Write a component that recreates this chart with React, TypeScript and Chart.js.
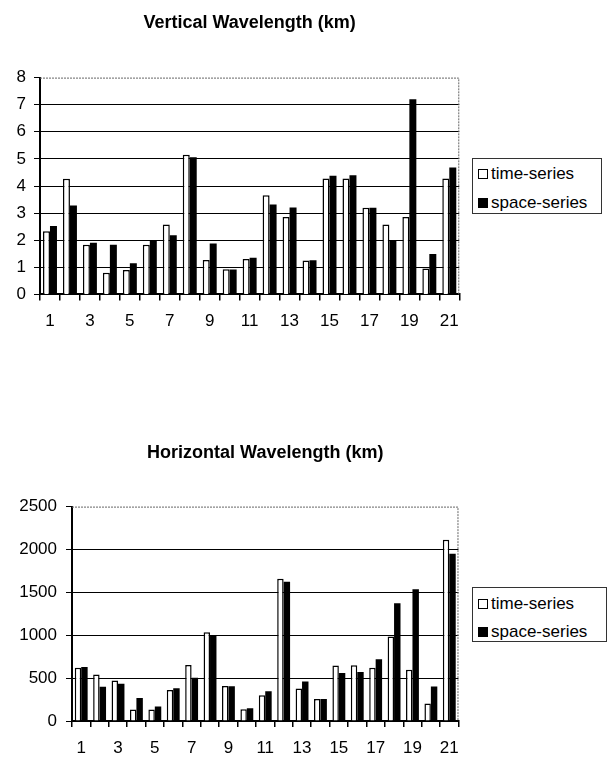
import React, { useEffect, useRef } from 'react';
import { Chart, registerables } from 'chart.js';

Chart.register(...registerables);

const categories = ['1', '2', '3', '4', '5', '6', '7', '8', '9', '10', '11', '12', '13', '14', '15', '16', '17', '18', '19', '20', '21'];
const seriesNames = ['time-series', 'space-series'];

const verticalTime = [2.33, 4.27, 1.83, 0.8, 0.9, 1.83, 2.58, 5.15, 1.27, 0.93, 1.31, 3.66, 2.86, 1.25, 4.28, 4.28, 3.2, 2.58, 2.86, 0.96, 4.28];
const verticalSpace = [2.52, 3.28, 1.91, 1.83, 1.15, 1.98, 2.18, 5.06, 1.88, 0.92, 1.35, 3.32, 3.21, 1.26, 4.38, 4.4, 3.2, 1.99, 7.2, 1.49, 4.68];

const horizontalTime = [622, 543, 472, 134, 134, 362, 654, 1035, 409, 138, 300, 1659, 378, 256, 646, 650, 622, 985, 598, 205, 2112];
const horizontalSpace = [630, 400, 433, 268, 170, 382, 504, 1004, 405, 150, 346, 1624, 460, 256, 559, 571, 720, 1372, 1535, 402, 1950];

const FONT = "'Liberation Sans', Arial, sans-serif";

const framePlugin = {
  id: 'frame',
  beforeDatasetsDraw(chart: any) {
    const { ctx, chartArea: a } = chart;
    ctx.save();
    ctx.strokeStyle = '#666';
    ctx.lineWidth = 1;
    ctx.setLineDash([2, 1]);
    ctx.beginPath();
    ctx.moveTo(a.left, a.top + 0.5);
    ctx.lineTo(a.right - 0.5, a.top + 0.5);
    ctx.lineTo(a.right - 0.5, a.bottom);
    ctx.stroke();
    ctx.restore();
  },
};

interface Cfg {
  title: string;
  time: number[];
  space: number[];
  yMax: number;
  yStep: number;
  yWidth: number;
  yPad: number;
  xHeight: number;
  xPad: number;
  titleTop: number;
  titleBottom: number;
}

function makeChart(canvas: HTMLCanvasElement, c: Cfg) {
  return new Chart(canvas, {
    type: 'bar',
    data: {
      labels: categories,
      datasets: [
        {
          label: seriesNames[0],
          data: c.time,
          backgroundColor: '#ffffff',
          borderColor: '#000000',
          borderWidth: 1.5,
          categoryPercentage: 0.7,
          barPercentage: 1.0,
        },
        {
          label: seriesNames[1],
          data: c.space,
          backgroundColor: '#000000',
          borderColor: '#000000',
          borderWidth: 0,
          categoryPercentage: 0.7,
          barPercentage: 1.0,
        },
      ],
    },
    options: {
      animation: false,
      responsive: false,
      events: [],
      layout: { padding: { left: 0, right: 10, top: 0, bottom: 0 } },
      plugins: {
        legend: { display: false },
        tooltip: { enabled: false },
        title: {
          display: true,
          text: c.title,
          color: '#000',
          fullSize: false,
          font: { family: FONT, size: 18, weight: 'bold' },
          padding: { top: c.titleTop, bottom: c.titleBottom },
        },
      },
      scales: {
        x: {
          afterFit: (s: any) => {
            s.height = c.xHeight;
          },
          grid: {
            offset: true,
            drawOnChartArea: false,
            drawTicks: true,
            tickLength: 6,
            color: '#000',
            lineWidth: 1.5,
          },
          border: { display: true, color: '#000', width: 2 },
          ticks: {
            autoSkip: false,
            maxRotation: 0,
            padding: c.xPad,
            color: '#000',
            font: { family: FONT, size: 17 },
            callback: (_v: any, i: number) => (i % 2 === 0 ? categories[i] : ''),
          },
        },
        y: {
          min: 0,
          max: c.yMax,
          afterFit: (s: any) => {
            s.width = c.yWidth;
          },
          grid: {
            color: (ctx: any) => (ctx.tick && ctx.tick.value === c.yMax ? 'rgba(0,0,0,0)' : '#000'),
            lineWidth: 1,
            tickLength: 6,
            tickColor: '#000',
          },
          border: { display: true, color: '#000', width: 2 },
          ticks: {
            stepSize: c.yStep,
            padding: c.yPad,
            color: '#000',
            font: { family: FONT, size: 17 },
            callback: (v: any) => String(v),
          },
        },
      },
    },
    plugins: [framePlugin],
  } as any);
}

function Legend({ left, top, width, height, row1, row2 }: { left: number; top: number; width: number; height: number; row1: number; row2: number }) {
  const rowStyle = (center: number): React.CSSProperties => ({
    position: 'absolute',
    left: 5,
    top: center - 11,
    height: 22,
    display: 'flex',
    alignItems: 'center',
    whiteSpace: 'nowrap',
    fontFamily: FONT,
    fontSize: 17,
    color: '#000',
  });
  const marker = (fill: string): React.CSSProperties => ({
    display: 'inline-block',
    width: 10,
    height: 10,
    boxSizing: 'border-box',
    border: '1.5px solid #000',
    background: fill,
    marginRight: 3,
  });
  return (
    <div
      style={{
        position: 'absolute',
        left,
        top,
        width,
        height,
        boxSizing: 'border-box',
        border: '1px solid #333',
        background: '#fff',
      }}
    >
      <div style={rowStyle(row1)}>
        <span style={marker('#fff')} />
        <span>{seriesNames[0]}</span>
      </div>
      <div style={rowStyle(row2)}>
        <span style={marker('#000')} />
        <span>{seriesNames[1]}</span>
      </div>
    </div>
  );
}

export default function App() {
  const ref1 = useRef<HTMLCanvasElement>(null);
  const ref2 = useRef<HTMLCanvasElement>(null);

  useEffect(() => {
    const c1 = makeChart(ref1.current!, {
      title: 'Vertical Wavelength (km)',
      time: verticalTime,
      space: verticalSpace,
      yMax: 8,
      yStep: 1,
      yWidth: 40,
      yPad: 8,
      xHeight: 50.6,
      xPad: 11,
      titleTop: 12,
      titleBottom: 44,
    });
    const c2 = makeChart(ref2.current!, {
      title: 'Horizontal Wavelength (km)',
      time: horizontalTime,
      space: horizontalSpace,
      yMax: 2500,
      yStep: 500,
      yWidth: 72,
      yPad: 9,
      xHeight: 38,
      xPad: 11,
      titleTop: 62,
      titleBottom: 43,
    });
    return () => {
      c1.destroy();
      c2.destroy();
    };
  }, []);

  return (
    <div style={{ position: 'absolute', left: 0, top: 0, width: 609, height: 759, background: '#fff', overflow: 'hidden' }}>
      <canvas ref={ref1} width={470} height={345} style={{ position: 'absolute', left: 0, top: 0, width: 470, height: 345 }} />
      <canvas ref={ref2} width={470} height={379} style={{ position: 'absolute', left: 0, top: 380, width: 470, height: 379 }} />
      <Legend left={472} top={158} width={130} height={56} row1={15} row2={44} />
      <Legend left={472} top={587} width={135} height={55} row1={16} row2={44} />
    </div>
  );
}
